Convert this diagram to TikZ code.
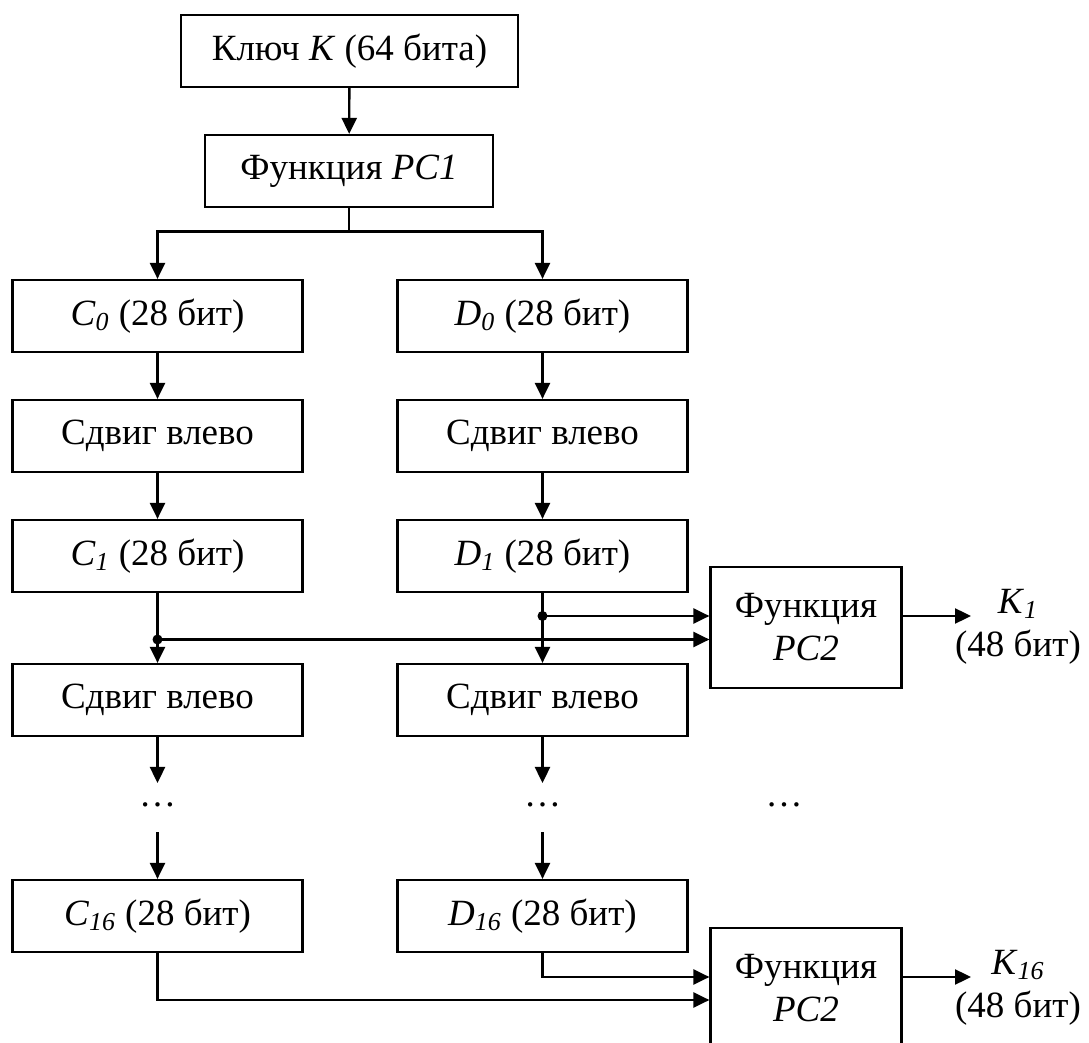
\documentclass[tikz,border=0pt]{standalone}
\usepackage{fontspec}
\setmainfont{Liberation Serif}
\usetikzlibrary{arrows.meta}

\tikzset{
  blk/.style={draw, line width=1.1pt, minimum height=36pt, inner sep=0pt,
    font=\fontsize{18.5}{21.5}\selectfont},
  halfbox/.style={blk, minimum width=145pt},
  pcbox/.style={blk, minimum width=95.5pt, minimum height=60.5pt, align=center},
  outlbl/.style={align=center, inner sep=0pt, font=\fontsize{18.5}{21.5}\selectfont},
  arr/.style={line width=1.2pt, -{Triangle[length=8pt, width=7.5pt]}},
  ln/.style={line width=1.2pt},
}
\newcommand{\sub}[2]{\textit{#1}\textsubscript{\textit{#2}}}

\begin{document}
\begin{tikzpicture}[x=0.5pt, y=-0.5pt]
\clip (0,0) rectangle (1089,1043);

\node[blk, minimum width=168.5pt] (key) at (349.5,51) {Ключ \textit{K} (64 бита)};
\node[blk, minimum width=144pt] (pc1) at (349,171) {Функция \textit{PC1}};
\coordinate (split) at (349,231.7);

% left column
\node[halfbox] (c0) at (157.5,316) {\sub{C}{0} (28 бит)};
\node[halfbox] (shc1) at (157.5,436) {Сдвиг влево};
\node[halfbox] (c1) at (157.5,556) {\sub{C}{1} (28 бит)};
\node[halfbox] (shc2) at (157.5,700) {Сдвиг влево};
\node[halfbox] (c16) at (157.5,916) {\sub{C}{16} (28 бит)};

% right column
\node[halfbox] (d0) at (542.5,316) {\sub{D}{0} (28 бит)};
\node[halfbox] (shd1) at (542.5,436) {Сдвиг влево};
\node[halfbox] (d1) at (542.5,556) {\sub{D}{1} (28 бит)};
\node[halfbox] (shd2) at (542.5,700) {Сдвиг влево};
\node[halfbox] (d16) at (542.5,916) {\sub{D}{16} (28 бит)};

% PC2
\node[pcbox] (pc2a) at (806,627.5) {Функция\\\textit{PC2}};
\node[pcbox] (pc2b) at (806,988.5) {Функция\\\textit{PC2}};
\node[outlbl] (k1) at (1018,627) {\sub{K}{1}\\(48 бит)};
\node[outlbl] (k16) at (1018,988) {\sub{K}{16}\\(48 бит)};

% dots
\node[outlbl] (dotc) at (157.5,805) {…};
\node[outlbl] (dotd) at (542.5,805) {…};
\node[outlbl] (dotk) at (784,805) {…};

\draw[arr] (key) -- (pc1);
\draw[ln] (pc1.south) -- (split);
\draw[arr] (split) -| (c0.north);
\draw[arr] (split) -| (d0.north);

\draw[arr] (c0) -- (shc1);
\draw[arr] (shc1) -- (c1);
\draw[arr] (c1) -- (shc2);
\draw[arr] (d0) -- (shd1);
\draw[arr] (shd1) -- (d1);
\draw[arr] (d1) -- (shd2);

%c1, d1 -- pc2
\coordinate (ina) at ([yshift=5.75pt]pc2a.west);
\coordinate (inb) at ([yshift=-6pt]pc2a.west);
\coordinate (jd) at (d1.south |- ina);
\coordinate (jc) at (c1.south |- inb);
\draw[arr] (jd) -- (ina);
\draw[arr] (jc) -- (inb);
\fill (jd) circle (2.5pt);
\fill (jc) circle (2.5pt);
\coordinate (k1end) at (971,616);
\draw[arr] (pc2a.east |- k1end) -- (k1end);

% to dots
\coordinate (ec) at (157.5,783);
\coordinate (ed) at (542.5,783);
\coordinate (sc) at (157.5,832);
\coordinate (sd) at (542.5,832);
\draw[arr] (shc2.south) -- (ec);
\draw[arr] (shd2.south) -- (ed);
\draw[arr] (sc) -- (c16.north);
\draw[arr] (sd) -- (d16.north);

%c16, d16 -- pc2
\coordinate (inc) at ([yshift=5.75pt]pc2b.west);
\coordinate (ind) at ([yshift=-5.75pt]pc2b.west);
\draw[arr] (d16.south) |- (inc);
\draw[arr] (c16.south) |- (ind);
\coordinate (k16end) at (971,977);
\draw[arr] (pc2b.east |- k16end) -- (k16end);

\end{tikzpicture}
\end{document}
